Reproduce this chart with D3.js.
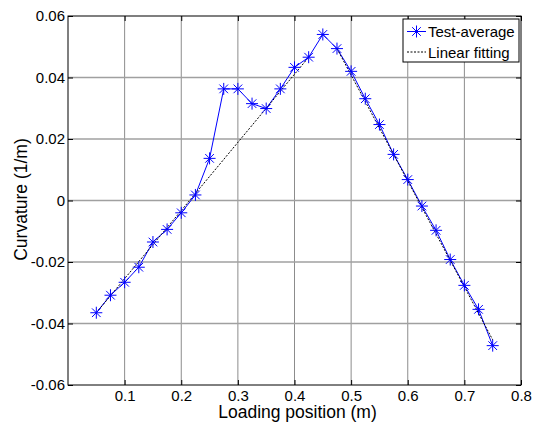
<!DOCTYPE html>
<html>
<head>
<meta charset="utf-8">
<script src="https://cdn.jsdelivr.net/npm/d3@7/dist/d3.min.js"></script>
<style>
  body { margin: 0; background: #fff; }
  svg { font-family: "Liberation Sans", Arial, sans-serif; }
</style>
</head>
<body>
<script>
// loading positions (m)
const positions = [0.05, 0.075, 0.1, 0.125, 0.15, 0.175, 0.2, 0.225, 0.25, 0.275,
  0.3, 0.325, 0.35, 0.375, 0.4, 0.425, 0.45, 0.475, 0.5, 0.525,
  0.55, 0.575, 0.6, 0.625, 0.65, 0.675, 0.7, 0.725, 0.75];
// test-average curvature (1/m)
const curvature = [-0.0365, -0.0308, -0.0266, -0.0217, -0.0135, -0.0094, -0.004, 0.0018, 0.0137, 0.0363,
  0.0363, 0.0315, 0.0299, 0.0363, 0.0433, 0.0466, 0.054, 0.0494, 0.042, 0.0331,
  0.0247, 0.015, 0.0068, -0.0018, -0.0097, -0.0192, -0.0276, -0.0354, -0.0472];
// linear fitting, two segments
const fitLeftX = [0.05, 0.425];
const fitLeftY = [-0.0365, 0.0466];
const fitRightX = [0.475, 0.75];
const fitRightY = [0.0494, -0.0453];

const xTicks = [0.1, 0.2, 0.3, 0.4, 0.5, 0.6, 0.7, 0.8];
const yTicks = [-0.06, -0.04, -0.02, 0, 0.02, 0.04, 0.06];

var margin = { left: 68, right: 12, top: 16, bottom: 44 },
  width = 533 - margin.left - margin.right,
  height = 429 - margin.top - margin.bottom;

var svg = d3.select("body").append("svg")
  .attr("width", 533).attr("height", 429)
  .append("g")
  .attr("transform", "translate(" + margin.left + "," + margin.top + ")");

var xScale = d3.scaleLinear().domain([0, 0.8]).range([0, width]);
var yScale = d3.scaleLinear().domain([-0.06, 0.06]).range([height, 0]);

// grid
svg.append("g").selectAll("line").data(xTicks.filter(d => d < 0.8)).enter()
  .append("line")
  .attr("x1", d => xScale(d)).attr("x2", d => xScale(d))
  .attr("y1", 0).attr("y2", height)
  .attr("stroke", "#8c8c8c").attr("stroke-width", 1);
svg.append("g").selectAll("line").data(yTicks.filter(d => d > -0.06 && d < 0.06)).enter()
  .append("line")
  .attr("x1", 0).attr("x2", width)
  .attr("y1", d => yScale(d)).attr("y2", d => yScale(d))
  .attr("stroke", "#a0a0a0").attr("stroke-width", 1.3);

// axes, ticks pointing inward
var fmtY = d => d === 0 ? "0" : d3.format(".2f")(d).replace("−", "-");
var xAxis = d3.axisBottom(xScale).tickValues(xTicks).tickSize(-5).tickPadding(5).tickFormat(d3.format(".1f"));
var yAxis = d3.axisLeft(yScale).tickValues(yTicks).tickSize(-5).tickPadding(3).tickFormat(fmtY);

var gX = svg.append("g").attr("transform", "translate(0," + height + ")").call(xAxis);
var gY = svg.append("g").call(yAxis);
svg.append("g").call(d3.axisTop(xScale).tickValues(xTicks).tickSize(-5).tickFormat(""));
svg.append("g").attr("transform", "translate(" + width + ",0)")
  .call(d3.axisRight(yScale).tickValues(yTicks).tickSize(-5).tickFormat(""));

svg.selectAll(".domain").remove();
svg.selectAll(".tick line").attr("stroke", "#000");
[gX, gY].forEach(g => g.selectAll("text").attr("font-size", "15px").attr("fill", "#000")
  .style("font-family", "'Liberation Sans', Arial, sans-serif"));

svg.append("rect")
  .attr("width", width).attr("height", height)
  .attr("fill", "none").attr("stroke", "#000").attr("stroke-width", 1);

// labels
svg.append("text")
  .attr("x", xScale(0.4) + 3).attr("y", height + 33)
  .attr("text-anchor", "middle").attr("font-size", "17.5px")
  .text("Loading position (m)");
svg.append("text")
  .attr("transform", "rotate(-90)")
  .attr("x", -height / 2 + 1).attr("y", -41)
  .attr("text-anchor", "middle").attr("font-size", "17.5px")
  .text("Curvature (1/m)");

// test-average line
var line = d3.line().x(d => xScale(d[0])).y(d => yScale(d[1]));
var pts = positions.map((p, i) => [p, curvature[i]]);
svg.append("path").datum(pts)
  .attr("d", line).attr("fill", "none")
  .attr("stroke", "#0000ff").attr("stroke-width", 1);

// linear fitting
[[fitLeftX, fitLeftY], [fitRightX, fitRightY]].forEach(([fx, fy]) => {
  svg.append("path").datum(fx.map((x, i) => [x, fy[i]]))
    .attr("d", line).attr("fill", "none")
    .attr("stroke", "#000").attr("stroke-width", 1)
    .attr("stroke-dasharray", "2,1.5");
});

// asterisk markers
function star(g, cx, cy, r) {
  var d = r * 0.72;
  g.append("path")
    .attr("d", `M${cx - r},${cy}H${cx + r}M${cx},${cy - r}V${cy + r}` +
      `M${cx - d},${cy - d}L${cx + d},${cy + d}M${cx - d},${cy + d}L${cx + d},${cy - d}`)
    .attr("stroke", "#0000ff").attr("stroke-width", 1).attr("fill", "none");
}
var markers = svg.append("g");
pts.forEach(d => star(markers, xScale(d[0]), yScale(d[1]), 6));

// legend
var lg = svg.append("g").attr("transform", "translate(" + (403 - margin.left) + "," + (19 - margin.top) + ")");
lg.append("rect").attr("width", 116).attr("height", 43)
  .attr("fill", "#fff").attr("stroke", "#000").attr("stroke-width", 1);
lg.append("line").attr("x1", 4).attr("x2", 23).attr("y1", 12.5).attr("y2", 12.5)
  .attr("stroke", "#0000ff").attr("stroke-width", 1);
star(lg, 13.5, 12.5, 6);
lg.append("line").attr("x1", 4).attr("x2", 23).attr("y1", 33).attr("y2", 33)
  .attr("stroke", "#000").attr("stroke-width", 1).attr("stroke-dasharray", "2,1.5");
lg.append("text").attr("x", 25).attr("y", 18).attr("font-size", "15px").text("Test-average");
lg.append("text").attr("x", 25).attr("y", 38.5).attr("font-size", "15px").text("Linear fitting");
</script>
</body>
</html>
